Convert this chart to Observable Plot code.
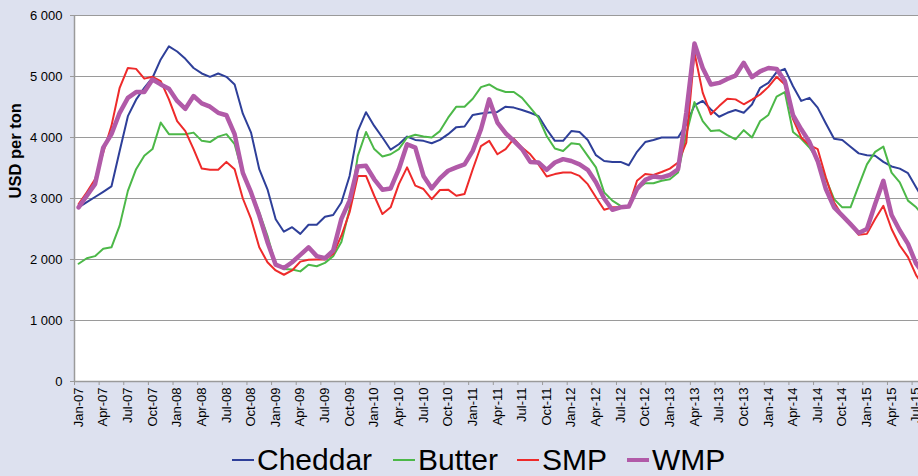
<!DOCTYPE html>
<html><head><meta charset="utf-8">
<script src="https://cdn.jsdelivr.net/npm/d3@7"></script>
<script src="https://cdn.jsdelivr.net/npm/@observablehq/plot@0.6"></script>
<style>
html,body{margin:0;padding:0}
body{background:#dde1ef;font-family:"Liberation Sans",Arial,sans-serif;width:918px;height:476px;overflow:hidden;position:relative}
#chart{position:absolute;left:0;top:0}
#legend{position:absolute;left:0;top:440px;width:918px;height:40px}
.item{position:absolute;top:0;height:40px;font-size:30px;line-height:40px;color:#000;display:flex;align-items:center;white-space:nowrap}
.sw{display:inline-block;width:22px;margin-right:3px}
</style></head><body>
<div id="chart"></div>
<div id="legend"></div>
<script>
// Monthly prices, Jan-07 .. Aug-15 (USD per ton)
const cheddar = [2855,2940,3025,3110,3198,3780,4350,4620,4815,4980,5280,5495,5410,5290,5140,5050,4995,5050,4995,4870,4390,4080,3480,3150,2660,2455,2530,2420,2570,2570,2700,2730,2935,3370,4105,4415,4190,4000,3800,3890,4015,3960,3945,3905,3960,4055,4170,4180,4370,4395,4410,4420,4505,4490,4450,4405,4350,4135,3945,3945,4105,4090,3960,3710,3615,3600,3600,3545,3765,3925,3960,4000,4000,4000,4215,4525,4600,4460,4340,4405,4450,4405,4540,4815,4895,5070,5125,4840,4600,4650,4490,4230,3980,3960,3850,3740,3710,3700,3600,3525,3490,3415,3180,2950];
const butter = [1930,2020,2055,2175,2200,2555,3125,3480,3700,3810,4245,4055,4055,4055,4080,3945,3925,4015,4055,3890,3400,3100,2775,2390,1915,1845,1835,1805,1915,1890,1945,2055,2285,2825,3700,4090,3810,3690,3725,3810,4000,4045,4015,4000,4105,4325,4505,4505,4635,4825,4870,4790,4745,4745,4650,4490,4325,4025,3820,3780,3905,3890,3700,3510,3100,2965,2880,2870,3155,3250,3250,3290,3315,3425,4055,4580,4270,4105,4120,4040,3970,4120,4000,4270,4370,4670,4745,4090,3980,3835,3635,3320,2990,2855,2855,3210,3560,3765,3850,3425,3265,2965,2855,2700];
const smp = [2910,3100,3315,3755,4190,4815,5140,5125,4965,4995,4925,4625,4270,4105,3810,3490,3470,3470,3600,3480,3000,2665,2200,1955,1820,1750,1820,1965,1995,2000,2000,2090,2390,2775,3370,3370,3045,2745,2855,3235,3510,3210,3155,2990,3140,3145,3045,3075,3480,3860,3945,3725,3810,3980,3835,3725,3560,3360,3400,3425,3425,3370,3235,3020,2815,2855,2855,2870,3290,3400,3385,3435,3490,3590,3915,5390,4735,4380,4515,4635,4625,4545,4620,4705,4830,4995,4870,4300,4000,3875,3810,3345,2935,2720,2580,2405,2420,2665,2880,2500,2230,2040,1740,1550];
const wmp = [2855,3045,3235,3835,4055,4405,4650,4745,4745,4950,4870,4800,4600,4470,4680,4560,4505,4405,4365,4055,3420,3100,2720,2285,1915,1860,1955,2075,2200,2055,2020,2145,2665,2965,3525,3535,3315,3145,3165,3480,3890,3835,3370,3165,3330,3455,3510,3560,3780,4135,4625,4245,4070,3945,3810,3600,3590,3470,3590,3645,3615,3560,3470,3265,3000,2815,2855,2870,3155,3305,3360,3345,3385,3480,4405,5540,5140,4870,4895,4960,5015,5225,4990,5085,5140,5125,4925,4365,4135,3925,3615,3155,2855,2720,2580,2435,2500,2910,3290,2730,2475,2255,1930,1750];

const tickLabels = ["Jan-07","Apr-07","Jul-07","Oct-07","Jan-08","Apr-08","Jul-08","Oct-08","Jan-09","Apr-09","Jul-09","Oct-09","Jan-10","Apr-10","Jul-10","Oct-10","Jan-11","Apr-11","Jul-11","Oct-11","Jan-12","Apr-12","Jul-12","Oct-12","Jan-13","Apr-13","Jul-13","Oct-13","Jan-14","Apr-14","Jul-14","Oct-14","Jan-15","Apr-15","Jul-15"];
const yTicks = [0,1000,2000,3000,4000,5000,6000];

const seriesNames = ["Cheddar","Butter","SMP","WMP"];
const seriesColors = ["#2e3f99","#4cb848","#ee2a2a","#b15aa8"];
const seriesWidths = [2,2,2,4.5];
const seriesData = [cheddar, butter, smp, wmp];

const labelPos = tickLabels.map((d,k) => k*3);
const tickPos = tickLabels.map((d,k) => k*3 - 0.5);

const W = 918, H = 436;
const font = "'Liberation Sans', Arial, sans-serif";

const chart = Plot.plot({
  width: W, height: H,
  marginLeft: 74, marginRight: 0, marginTop: 15, marginBottom: H - 381,
  style: {background: "transparent", fontFamily: font, color: "#000", overflow: "visible"},
  x: {domain: [-0.5, 102.28], axis: null},
  y: {domain: [0, 6000], axis: null},
  marks: [
    Plot.frame({fill: "white", stroke: null}),
    Plot.gridY(yTicks.slice(1), {stroke: "#9a9a9a", strokeOpacity: 1, strokeWidth: 1}),
    Plot.axisY(yTicks, {tickSize: 4, tickPadding: 8, stroke: "#9a9a9a", fontSize: 13,
      tickFormat: d => d3.format(",")(d).replace(/,/g, " ")}),
    Plot.ruleX([-0.5], {stroke: "#9a9a9a", strokeWidth: 1.5}),
    Plot.ruleY([0], {stroke: "#9a9a9a", strokeWidth: 1.5}),
    Plot.axisX(tickPos, {tickSize: 4, stroke: "#9a9a9a", tickFormat: () => ""}),
    Plot.axisX(labelPos, {tickSize: 0, tickPadding: 6, tickRotate: -90, fontSize: 13,
      tickFormat: d => tickLabels[Math.round(d/3)]}),
    ...seriesData.map((s, k) => Plot.lineY(s, {stroke: seriesColors[k], strokeWidth: seriesWidths[k], clip: true})),
    Plot.text(["USD per ton"], {frameAnchor: "left", dx: -59, rotate: -90, fontWeight: "bold", fontSize: 16.5})
  ]
});
document.getElementById("chart").appendChild(chart);

const legendX = [232, 393, 517, 627];
const legend = document.getElementById("legend");
seriesNames.forEach((n, k) => {
  const it = document.createElement("div");
  it.className = "item";
  it.style.left = legendX[k] + "px";
  const sw = document.createElement("span");
  sw.className = "sw";
  sw.style.height = (k === 3 ? 4 : 2.5) + "px";
  sw.style.background = seriesColors[k];
  it.appendChild(sw);
  it.appendChild(document.createTextNode(n));
  legend.appendChild(it);
});
</script>
</body></html>
